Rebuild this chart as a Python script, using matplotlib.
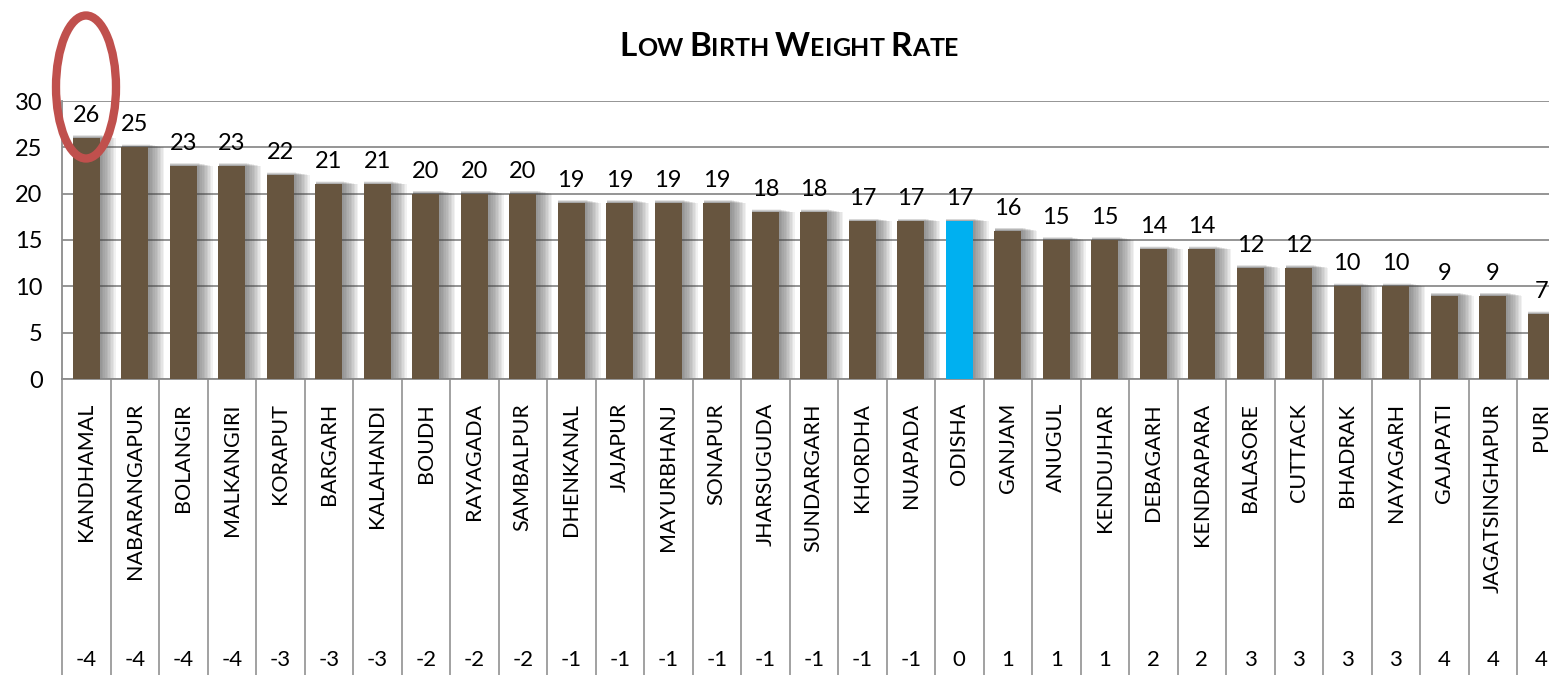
import matplotlib
matplotlib.use("Agg")
import matplotlib.pyplot as plt
from matplotlib.patches import Ellipse
from matplotlib.offsetbox import TextArea, HPacker, AnchoredOffsetbox
import matplotlib.transforms as mtransforms

districts = ["KANDHAMAL", "NABARANGAPUR", "BOLANGIR", "MALKANGIRI", "KORAPUT", "BARGARH",
             "KALAHANDI", "BOUDH", "RAYAGADA", "SAMBALPUR", "DHENKANAL", "JAJAPUR",
             "MAYURBHANJ", "SONAPUR", "JHARSUGUDA", "SUNDARGARH", "KHORDHA", "NUAPADA",
             "ODISHA", "GANJAM", "ANUGUL", "KENDUJHAR", "DEBAGARH", "KENDRAPARA",
             "BALASORE", "CUTTACK", "BHADRAK", "NAYAGARH", "GAJAPATI", "JAGATSINGHAPUR", "PURI"]
lbw_rate = [26, 25, 23, 23, 22, 21, 21, 20, 20, 20, 19, 19, 19, 19, 18, 18, 17, 17,
            17, 16, 15, 15, 14, 14, 12, 12, 10, 10, 9, 9, 7]
score = [-4, -4, -4, -4, -3, -3, -3, -2, -2, -2, -1, -1, -1, -1, -1, -1, -1, -1,
         0, 1, 1, 1, 2, 2, 3, 3, 3, 3, 4, 4, 4]
yticks = [0, 5, 10, 15, 20, 25, 30]

W, H = 1549, 675
fig = plt.figure(figsize=(W / 100, H / 100), dpi=100)
plt.rcParams['font.family'] = ['Lato', 'DejaVu Sans']

ax_left, ax_top, ax_bot = 62, 101, 379
cat_w = 48.5
ax = fig.add_axes([ax_left / W, 1 - ax_bot / H, 1 - ax_left / W, (ax_bot - ax_top) / H])
n = len(districts)
xs = list(range(n))
ax.set_xlim(-0.5, (W - ax_left) / cat_w - 0.5)
ax.set_ylim(0, 30)

grid_c = '#8c8c8c'
for yv in yticks:
    ax.axhline(yv, color=grid_c, lw=1.3, zorder=0)
for s in ['top', 'right', 'bottom']:
    ax.spines[s].set_visible(False)
ax.spines['left'].set_color(grid_c)
ax.spines['left'].set_linewidth(1.3)
ax.set_yticks(yticks)
ax.set_yticklabels([str(v) for v in yticks], fontsize=17)
ax.tick_params(axis='y', length=0, pad=14)
ax.set_xticks([])

bar_w = 0.56
brown = '#67553f'
colors = ['#00b0f0' if d == 'ODISHA' else brown for d in districts]

# soft shadow
for k in range(1, 11):
    ext = k * 0.032
    ax.bar([x - bar_w / 2 + 0.01 for x in xs], [v + 0.35 - k * 0.035 for v in lbw_rate],
           width=bar_w + ext, align='edge', color='#444444', alpha=0.075, lw=0, zorder=1)
ax.bar(xs, lbw_rate, width=bar_w, color=colors, lw=0, zorder=3)

for x, v in zip(xs, lbw_rate):
    ax.annotate(str(v), (x, v), xytext=(0, 12), textcoords='offset pixels',
                ha='center', va='bottom', fontsize=17, color='black', zorder=4,
                annotation_clip=False)

# table below the axis
trans = mtransforms.blended_transform_factory(ax.transData, ax.transAxes)
bottom_ax = -(H - ax_bot) / (ax_bot - ax_top)
for i in range(n + 1):
    xb = i - 0.5
    ax.plot([xb, xb], [0, bottom_ax], color='#9a9a9a', lw=1.3, transform=trans,
            clip_on=False, zorder=2)
ax.plot([-0.5, n], [0, 0], color=grid_c, lw=1.3, transform=trans, clip_on=False, zorder=2)

name_y = -(403 - ax_bot) / (ax_bot - ax_top)
score_y = -(660 - ax_bot) / (ax_bot - ax_top)
for x, d, s in zip(xs, districts, score):
    ax.text(x, name_y, d, rotation=90, ha='center', va='top', fontsize=15.5,
            transform=trans, clip_on=False)
    ax.text(x, score_y, str(s), ha='center', va='center', fontsize=16,
            transform=trans, clip_on=False)

# small-caps title
def small_caps(text, big, small):
    parts = []
    for word_i, word in enumerate(text.split(' ')):
        s = word if word_i == 0 else ' ' + word
        first = True
        for ch in s:
            if ch == ' ':
                parts.append(TextArea(' ', textprops=dict(fontsize=small, fontweight='bold')))
            elif first:
                parts.append(TextArea(ch, textprops=dict(fontsize=big, fontweight='bold')))
                first = False
            else:
                parts.append(TextArea(ch, textprops=dict(fontsize=small, fontweight='bold')))
    return HPacker(children=parts, align='baseline', pad=0, sep=0)

title_box = small_caps("LOW BIRTH WEIGHT RATE", 24, 18)
anch = AnchoredOffsetbox(loc='center', child=title_box, frameon=False,
                         bbox_to_anchor=(789 / W, 1 - 47 / H),
                         bbox_transform=fig.transFigure, borderpad=0, pad=0)
fig.add_artist(anch)

# red highlight ellipse
ell = Ellipse((86 / W, 1 - 87 / H), 60 / W, 143 / H, transform=fig.transFigure,
              fill=False, edgecolor='#c0504d', lw=6, zorder=10)
fig.add_artist(ell)

fig.savefig('out.png', dpi=100, facecolor='white')
